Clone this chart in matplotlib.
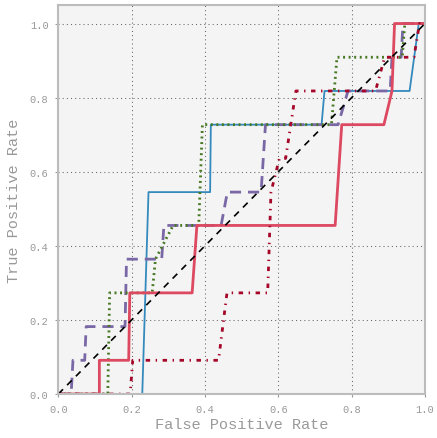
import matplotlib
matplotlib.use("Agg")
import matplotlib.pyplot as plt

# ROC curve points (false positive rate, true positive rate) for each model
fpr_blue = [0.0, 0.229, 0.246, 0.414, 0.416, 0.718, 0.726, 0.958, 0.983, 1.0]
tpr_blue = [0.0, 0.0, 0.545, 0.545, 0.727, 0.727, 0.818, 0.818, 1.0, 1.0]

fpr_purple = [0.0, 0.035, 0.04, 0.072, 0.076, 0.182, 0.186, 0.282, 0.288, 0.444,
              0.461, 0.553, 0.565, 0.763, 0.79, 0.905, 0.91, 0.935, 0.94, 1.0]
tpr_purple = [0.0, 0.0, 0.091, 0.091, 0.182, 0.182, 0.364, 0.364, 0.455, 0.455,
              0.545, 0.545, 0.727, 0.727, 0.818, 0.818, 0.909, 0.909, 1.0, 1.0]

fpr_green = [0.0, 0.135, 0.14, 0.256, 0.265, 0.313, 0.383, 0.393, 0.745, 0.76,
             0.938, 0.945, 1.0]
tpr_green = [0.0, 0.0, 0.273, 0.273, 0.364, 0.455, 0.455, 0.727, 0.727, 0.909,
             0.909, 1.0, 1.0]

fpr_red = [0.0, 0.112, 0.112, 0.192, 0.195, 0.365, 0.378, 0.755, 0.773, 0.888,
           0.91, 0.917, 1.0]
tpr_red = [0.0, 0.0, 0.091, 0.091, 0.273, 0.273, 0.455, 0.455, 0.727, 0.727,
           0.818, 1.0, 1.0]

fpr_darkred = [0.0, 0.196, 0.203, 0.437, 0.46, 0.571, 0.58, 0.603, 0.62, 0.648,
               0.865, 0.89, 0.97, 0.985, 1.0]
tpr_darkred = [0.0, 0.0, 0.091, 0.091, 0.273, 0.273, 0.545, 0.636, 0.636, 0.818,
               0.818, 0.909, 0.909, 1.0, 1.0]

x_ticks = [0.0, 0.2, 0.4, 0.6, 0.8, 1.0]
y_ticks = [0.0, 0.2, 0.4, 0.6, 0.8, 1.0]

plt.rcParams["font.family"] = ["Liberation Mono", "DejaVu Sans Mono"]

fig = plt.figure(figsize=(4.37, 4.39), dpi=100)
ax = fig.add_axes([0.1334, 0.1002, 0.8391, 0.8861])
ax.set_facecolor("#f4f4f4")

ax.grid(True, linestyle=(0, (1, 3)), color="#666666", linewidth=0.75)
ax.set_axisbelow(True)

ax.plot(fpr_blue, tpr_blue, color="#348ABD", linewidth=1.3)
ax.plot(fpr_purple, tpr_purple, color="#7A68A6", linewidth=2.0,
        linestyle=(0, (4, 2.5)))
ax.plot(fpr_green, tpr_green, color="#467821", linewidth=2.0,
        linestyle=(0, (0.7, 1.3)))
ax.plot(fpr_red, tpr_red, color="#DC4960", linewidth=2.0)
ax.plot(fpr_darkred, tpr_darkred, color="#A60628", linewidth=2.0,
        linestyle=(0, (1.6, 2.0, 0.5, 2.0)))
ax.plot([0, 1], [0, 1], color="black", linewidth=1.2, linestyle=(0, (4, 3.5)))

ax.set_xlim(0, 1.0)
ax.set_ylim(0, 1.05)
ax.set_xticks(x_ticks)
ax.set_yticks(y_ticks)
ax.set_xticklabels([f"{v:.1f}" for v in x_ticks])
ax.set_yticklabels([f"{v:.1f}" for v in y_ticks])

for spine in ax.spines.values():
    spine.set_color("#bcbcbc")
    spine.set_linewidth(1.5)

ax.tick_params(axis="both", labelsize=7.5, labelcolor="#999999",
               color="#999999", length=2, width=0.8, direction="out", pad=5)

ax.set_xlabel("False Positive Rate", fontsize=11, color="#999999", labelpad=2)
ax.set_ylabel("True Positive Rate", fontsize=11, color="#999999", labelpad=6)

fig.savefig("out.png", dpi=100)
